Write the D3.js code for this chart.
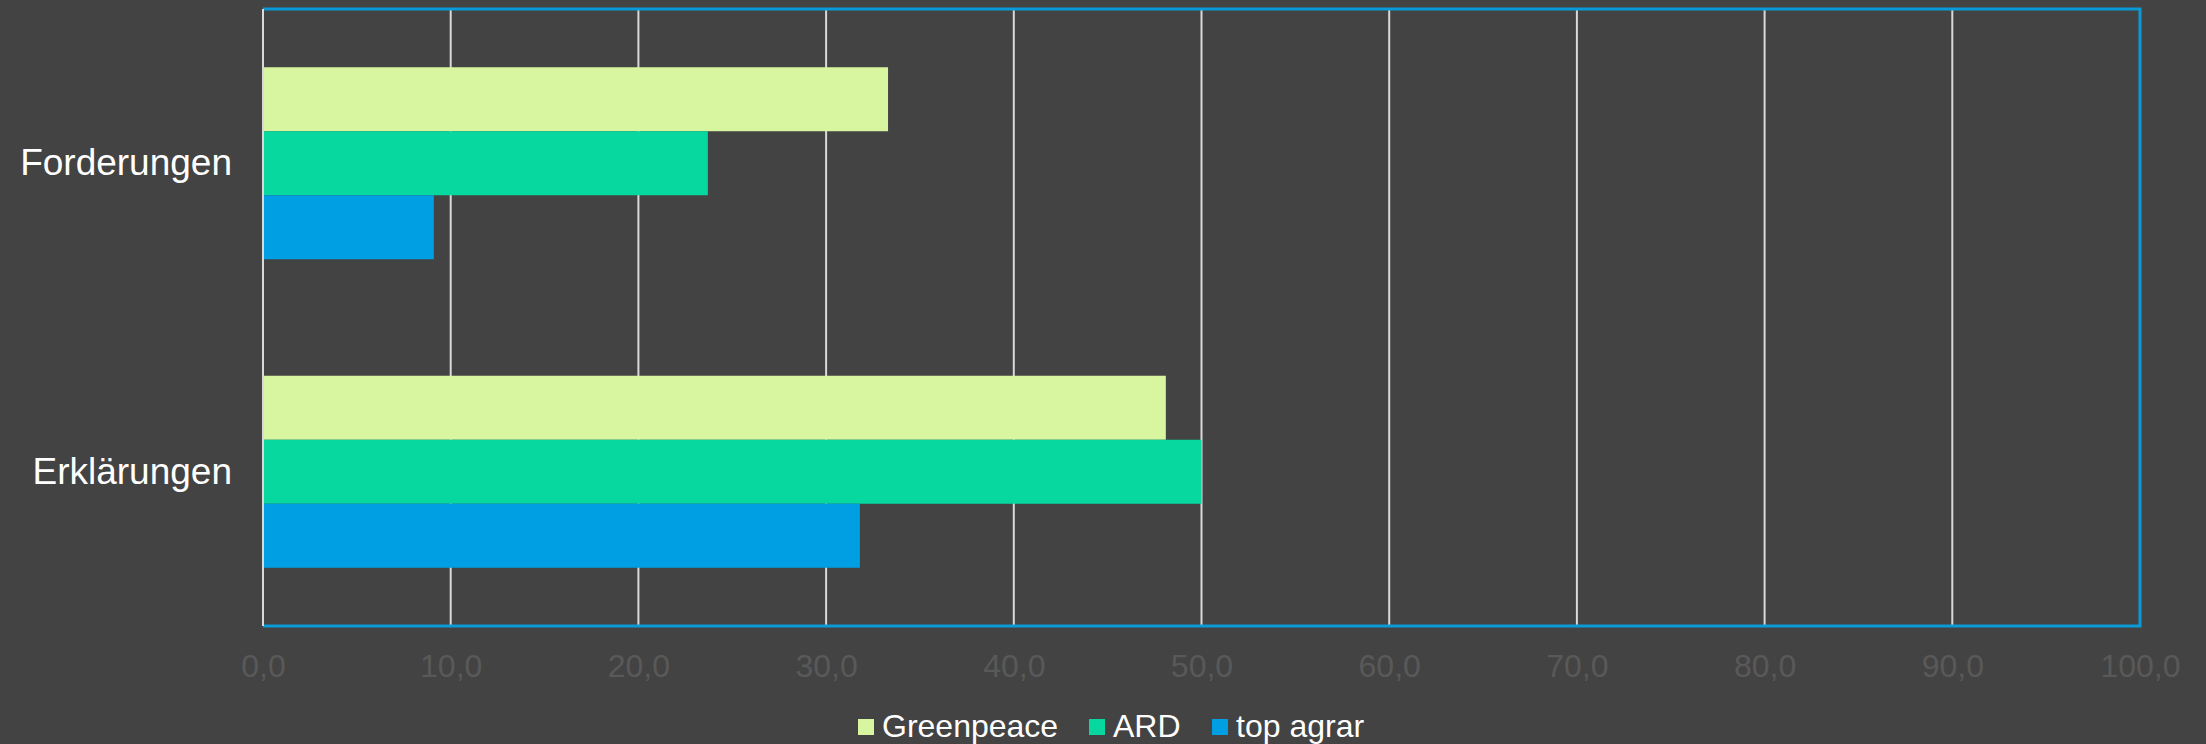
<!DOCTYPE html>
<html>
<head>
<meta charset="utf-8">
<script src="https://cdn.jsdelivr.net/npm/d3@7"></script>
<style>
  html, body { margin: 0; padding: 0; background: #434343; }
  svg { display: block; font-family: "Liberation Sans", Arial, sans-serif; }
</style>
</head>
<body>
<div id="chart"></div>
<script>
// data
var categories = ["Forderungen", "Erklärungen"];
var seriesNames = ["Greenpeace", "ARD", "top agrar"];
var greenpeace = [33.3, 48.1];
var ard = [23.7, 50.0];
var topAgrar = [9.1, 31.8];
var xTicks = [0, 10, 20, 30, 40, 50, 60, 70, 80, 90, 100];

var colors = ["#d8f59f", "#07d8a0", "#009fe3"];
var seriesValues = [greenpeace, ard, topAgrar];

var W = 2206, H = 744;
var margin = {top: 9, right: 66, bottom: 118, left: 263};
var width = W - margin.left - margin.right,
    height = H - margin.top - margin.bottom;

var svg = d3.select("#chart")
  .append("svg")
  .attr("width", W)
  .attr("height", H);

svg.append("rect")
  .attr("width", W).attr("height", H)
  .attr("fill", "#434343");

var g = svg.append("g")
  .attr("transform", "translate(" + margin.left + "," + margin.top + ")");

var x = d3.scaleLinear().domain([0, 100]).range([0, width]);
var y = d3.scaleBand().domain(categories).range([0, height]).padding(0);
var ySub = d3.scaleBand().domain(seriesNames).range([0, y.bandwidth()])
  .paddingInner(0).paddingOuter(0.91);

// gridlines
g.append("g")
  .selectAll("line")
  .data(xTicks.filter(function(d){ return d > 0 && d < 100; }))
  .enter().append("line")
  .attr("x1", function(d){ return x(d); })
  .attr("x2", function(d){ return x(d); })
  .attr("y1", 0).attr("y2", height)
  .attr("stroke", "#d9d9d9")
  .attr("stroke-width", 2);

// bars
var rows = [];
categories.forEach(function(c, ci){
  seriesNames.forEach(function(s, si){
    rows.push({cat: c, series: s, value: seriesValues[si][ci], color: colors[si]});
  });
});

g.append("g")
  .selectAll("rect")
  .data(rows)
  .enter().append("rect")
  .attr("x", x(0))
  .attr("y", function(d){ return y(d.cat) + ySub(d.series); })
  .attr("width", function(d){ return x(d.value) - x(0); })
  .attr("height", ySub.bandwidth())
  .attr("fill", function(d){ return d.color; });

// plot border: blue top/right/bottom, light left axis
g.append("path")
  .attr("d", "M0,0H" + width + "V" + height + "H0")
  .attr("fill", "none")
  .attr("stroke", "#0b9ad8")
  .attr("stroke-width", 3);
g.append("line")
  .attr("x1", 0).attr("x2", 0)
  .attr("y1", 0).attr("y2", height)
  .attr("stroke", "#d9d9d9")
  .attr("stroke-width", 2);

// x axis labels
var xAxis = d3.axisBottom(x)
  .tickValues(xTicks)
  .tickSize(0)
  .tickFormat(function(d){ return d3.format(".1f")(d).replace(".", ","); });

var xa = g.append("g")
  .attr("transform", "translate(0," + height + ")")
  .call(xAxis);
xa.select(".domain").remove();
xa.selectAll("text")
  .attr("y", 51)
  .attr("dy", null)
  .attr("fill", "#595959")
  .attr("font-size", 32)
  .attr("font-family", "Liberation Sans, Arial, sans-serif");

// y axis labels
var yAxis = d3.axisLeft(y).tickSize(0).tickPadding(31);
var ya = g.append("g").call(yAxis);
ya.select(".domain").remove();
ya.selectAll("text")
  .attr("fill", "#ffffff")
  .attr("font-size", 37)
  .attr("font-family", "Liberation Sans, Arial, sans-serif");

// legend
var legendX = [858, 1089, 1212];
var legend = svg.append("g");
var items = legend.selectAll("g")
  .data(seriesNames)
  .enter().append("g")
  .attr("transform", function(d, i){ return "translate(" + legendX[i] + ",719)"; });
items.append("rect")
  .attr("width", 16).attr("height", 16)
  .attr("fill", function(d, i){ return colors[i]; });
items.append("text")
  .attr("x", 24).attr("y", 18)
  .attr("fill", "#ffffff")
  .attr("font-size", 32)
  .text(function(d){ return d; });
</script>
</body>
</html>
